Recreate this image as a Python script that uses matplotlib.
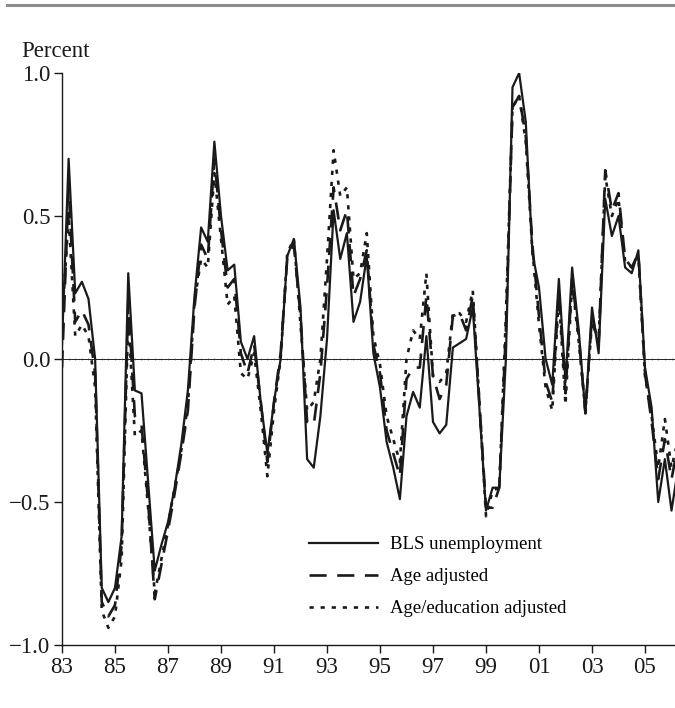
import numpy as np
import matplotlib
matplotlib.use("Agg")
import matplotlib.pyplot as plt
from matplotlib.lines import Line2D

plt.rcParams['font.family'] = ['Liberation Serif', 'DejaVu Serif']

# quarterly, starting 1983Q1
start_year = 1983
bls = [0.05, 0.70, 0.23, 0.27, 0.21, 0.00, -0.80, -0.85, -0.80, -0.62,
       0.30, -0.11, -0.12, -0.43, -0.74, -0.65, -0.57, -0.45, -0.30, -0.11,
       0.22, 0.46, 0.41, 0.76, 0.50, 0.31, 0.33, 0.06, 0.00, 0.08,
       -0.15, -0.33, -0.15, 0.00, 0.36, 0.42, 0.18, -0.35, -0.38, -0.20,
       0.07, 0.52, 0.35, 0.44, 0.13, 0.20, 0.36, 0.02, -0.10, -0.29,
       -0.38, -0.49, -0.20, -0.115, -0.17, 0.08, -0.22, -0.26, -0.23, 0.04,
       0.055, 0.07, 0.18, -0.17, -0.53, -0.45, -0.45, 0.00, 0.95, 1.00,
       0.83, 0.37, 0.25, 0.00, -0.09, 0.28, -0.08, 0.32, 0.10, -0.19,
       0.18, 0.02, 0.56, 0.43, 0.50, 0.32, 0.30, 0.38, -0.03, -0.17,
       -0.50, -0.35, -0.53, -0.38]
age = [-0.03, 0.60, 0.13, 0.17, 0.12, -0.05, -0.85, -0.90, -0.86, -0.65,
       0.20, -0.20, -0.23, -0.50, -0.84, -0.72, -0.60, -0.47, -0.33, -0.18,
       0.18, 0.40, 0.35, 0.70, 0.45, 0.25, 0.28, 0.02, -0.05, 0.05,
       -0.15, -0.36, -0.15, 0.02, 0.35, 0.40, 0.15, -0.22, -0.23, -0.05,
       0.25, 0.60, 0.45, 0.52, 0.22, 0.28, 0.38, 0.05, -0.05, -0.25,
       -0.33, -0.41, -0.07, -0.03, -0.03, 0.22, -0.06, -0.14, -0.09, 0.15,
       0.16, 0.10, 0.22, -0.15, -0.52, -0.52, -0.45, 0.10, 0.88, 0.92,
       0.78, 0.40, 0.15, -0.08, -0.15, 0.24, -0.12, 0.28, 0.08, -0.19,
       0.15, 0.05, 0.66, 0.52, 0.58, 0.35, 0.32, 0.37, -0.05, -0.22,
       -0.42, -0.28, -0.42, -0.30]
age_edu = [0.13, 0.50, 0.08, 0.12, 0.08, -0.10, -0.88, -0.94, -0.90, -0.70,
           0.15, -0.27, -0.25, -0.52, -0.82, -0.70, -0.58, -0.45, -0.32, -0.16,
           0.20, 0.35, 0.32, 0.65, 0.42, 0.19, 0.22, -0.05, -0.07, 0.02,
           -0.18, -0.41, -0.18, 0.00, 0.37, 0.42, 0.12, -0.18, -0.15, 0.00,
           0.35, 0.73, 0.57, 0.60, 0.28, 0.30, 0.44, 0.08, -0.02, -0.20,
           -0.28, -0.36, 0.00, 0.10, 0.07, 0.30, -0.06, -0.08, -0.05, 0.16,
           0.16, 0.13, 0.24, -0.15, -0.55, -0.46, -0.45, 0.15, 0.88, 0.92,
           0.76, 0.38, 0.12, -0.10, -0.18, 0.22, -0.16, 0.27, 0.06, -0.18,
           0.13, 0.06, 0.64, 0.50, 0.56, 0.34, 0.32, 0.36, -0.06, -0.20,
           -0.38, -0.21, -0.38, -0.28]

x_ticks = [1983, 1985, 1987, 1989, 1991, 1993, 1995, 1997, 1999, 2001, 2003, 2005]
x_labels = ['83', '85', '87', '89', '91', '93', '95', '97', '99', '01', '03', '05']
y_ticks = [-1.0, -0.5, 0.0, 0.5, 1.0]
y_labels = ['\u22121.0', '\u22120.5', '0.0', '0.5', '1.0']

x = start_year + np.arange(len(bls)) / 4.0

fig = plt.figure(figsize=(6.75, 7.08), dpi=100)
ax = fig.add_axes([62/675, 63/708, 613/675, 572/708])

# zero line with small quarterly marks
ax.axhline(0, color='black', lw=0.6, zorder=1)
qx = np.arange(1983, 2006.2, 0.25)
ax.plot(qx, np.zeros_like(qx), ls='none', marker='|', ms=2, mew=0.4, color='#333333', zorder=1)

ax.plot(x, age_edu, color='#1a1a1a', lw=1.9, dashes=(1.6, 2.6), label='Age/education adjusted', zorder=2)
ax.plot(x, age, color='#1a1a1a', lw=1.9, dashes=(6.5, 4), label='Age adjusted', zorder=3)
ax.plot(x, bls, color='#1a1a1a', lw=1.6, label='BLS unemployment', zorder=4)

ax.set_xlim(1983, 1983 + 613/26.5)
ax.set_ylim(-1.0, 1.0)
ax.set_xticks(x_ticks)
ax.set_xticklabels(x_labels)
ax.set_yticks(y_ticks)
ax.set_yticklabels(y_labels)
ax.tick_params(direction='out', length=5.5, width=1, labelsize=16.5, pad=3, colors='#1a1a1a')
for s in ['top', 'right']:
    ax.spines[s].set_visible(False)
for s in ['left', 'bottom']:
    ax.spines[s].set_linewidth(1.0)
    ax.spines[s].set_color('#1a1a1a')

h, l = ax.get_legend_handles_labels()
order = [2, 1, 0]
ax.legend([h[i] for i in order], [l[i] for i in order], frameon=False,
          loc='upper left', bbox_to_anchor=(309/675, 1 - 536/708),
          bbox_transform=fig.transFigure, fontsize=13.5, handlelength=3.7,
          handletextpad=0.6, labelspacing=0.8, borderpad=0, borderaxespad=0)

fig.text(21/675, 1 - 57/708, 'Percent', fontsize=16.5, va='baseline', ha='left', color='#1a1a1a')
fig.add_artist(Line2D([7/675, 1], [1 - 5/708, 1 - 5/708], color='#8c8c8c', lw=2.2))

fig.savefig('out.png', dpi=100)
